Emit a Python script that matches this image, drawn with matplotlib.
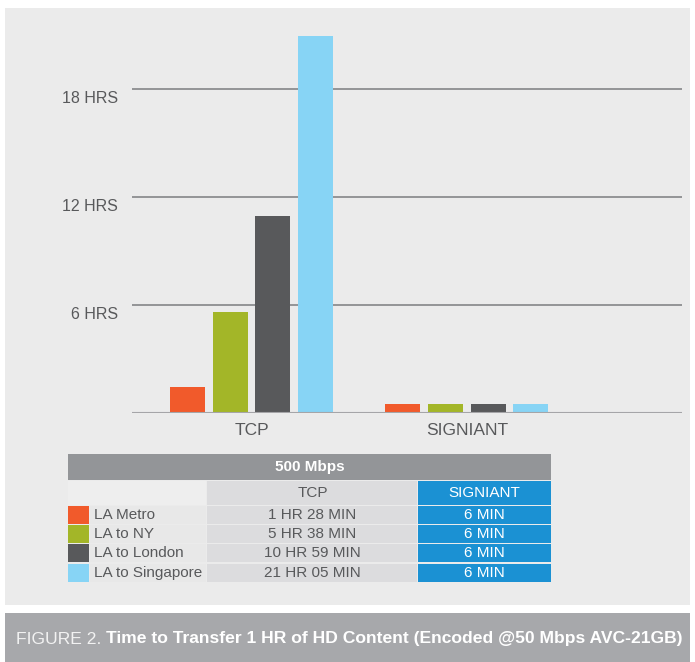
import matplotlib
matplotlib.use("Agg")
import matplotlib.pyplot as plt
from matplotlib.patches import Rectangle
import matplotlib.transforms as mtrans
import numpy as np

# ---- data ----
groups = ["TCP", "SIGNIANT"]
routes = ["LA Metro", "LA to NY", "LA to London", "LA to Singapore"]
tcp_hours = [1.47, 5.6, 10.95, 20.95]
signiant_hours = [0.5, 0.5, 0.5, 0.5]   # as drawn in the chart
tcp_labels = ["1 HR 28 MIN", "5 HR 38 MIN", "10 HR 59 MIN", "21 HR 05 MIN"]
signiant_labels = ["6 MIN", "6 MIN", "6 MIN", "6 MIN"]
yticks = [6, 12, 18]
ytick_labels = ["6 HRS", "12 HRS", "18 HRS"]
colors = ["#f15a2b", "#a3b628", "#58595b", "#87d4f5"]
table_title = "500 Mbps"
caption_light = "FIGURE 2. "
caption_bold = "Time to Transfer 1 HR of HD Content (Encoded @50 Mbps AVC-21GB)"

FAM = ["Liberation Sans", "DejaVu Sans"]
plt.rcParams["font.family"] = FAM

W, H = 695, 662
fig = plt.figure(figsize=(W / 100, H / 100), dpi=100)
fig.patch.set_facecolor("white")

def fx(x):
    return x / W

def fy(y):
    return 1 - y / H

def frect(x0, y0, x1, y1, color, z=0):
    fig.patches.append(Rectangle((fx(x0), fy(y1)), fx(x1) - fx(x0), fy(y0) - fy(y1),
                                 transform=fig.transFigure, facecolor=color,
                                 edgecolor="none", zorder=z))

# background panel and caption bar
frect(5, 8, 690, 605, "#ebebeb", -10)
frect(5, 613, 690, 662, "#a7a8ab", -10)

# ---- axes ----
ax_l, ax_r, ax_b, ax_t = 132, 682, 413, 20
ax = fig.add_axes([fx(ax_l), fy(ax_b), fx(ax_r) - fx(ax_l), fy(ax_t) - fy(ax_b)])
ax.set_zorder(5)
ax.set_facecolor("none")
ax.set_xlim(-0.556, 2.0)
ax.set_ylim(0, (ax_b - ax_t) / 18.0)

width = 0.163
pitch = 0.198
offsets = (np.arange(len(routes)) - 1.5) * pitch
for i, (r, c) in enumerate(zip(routes, colors)):
    ax.bar([0 + offsets[i], 1 + offsets[i]], [tcp_hours[i], signiant_hours[i]],
           width=width, color=c, zorder=3)

for v in yticks:
    ax.axhline(v, color="#8c8d90", lw=1.3, zorder=1)
ax.axhline(0, color="#a5a5a8", lw=1.5, zorder=4)
for s in ax.spines.values():
    s.set_visible(False)
ax.set_yticks([])
ax.set_xticks([0, 1])
ax.set_xticklabels(groups, fontsize=12.5, color="#58595b")
ax.tick_params(axis="x", length=0, pad=7)

trans = mtrans.blended_transform_factory(fig.transFigure, ax.transData)
for v, lab in zip(yticks, ytick_labels):
    ax.text(fx(118), v - 0.12, lab, transform=trans, ha="right", va="top",
            fontsize=11.5, color="#58595b")

# ---- table ----
tl, tr = 68, 551
c1, c2 = 207, 418
frect(tl, 454, tr, 480, "#939598", 1)
fig.text(fx((tl + tr) / 2), fy(467), table_title, ha="center", va="center",
         fontsize=11, color="white", fontweight="bold", zorder=3)
frect(tl, 481, c1 - 1, 505, "#eeeeee", 1)
frect(c1, 481, c2 - 1, 505, "#dcdcde", 1)
frect(c2, 481, tr, 505, "#1b91d3", 1)
fig.text(fx((c1 + c2) / 2), fy(493), groups[0], ha="center", va="center",
         fontsize=11, color="#58595b", zorder=3)
fig.text(fx((c2 + tr) / 2), fy(493), groups[1], ha="center", va="center",
         fontsize=11, color="white", zorder=3)

row_tops = [506, 525, 544, 564]
row_h = 18.2
for i, top in enumerate(row_tops):
    bot = top + row_h
    mid = (top + bot) / 2
    frect(tl, top, 89, bot, colors[i], 1)
    frect(90, top, c1 - 1, bot, "#e8e8e8", 1)
    frect(c1, top, c2 - 1, bot, "#dcdcde", 1)
    frect(c2, top, tr, bot, "#1b91d3", 1)
    fig.text(fx(94), fy(mid), routes[i], ha="left", va="center",
             fontsize=11, color="#58595b", zorder=3)
    fig.text(fx((c1 + c2) / 2), fy(mid), tcp_labels[i], ha="center", va="center",
             fontsize=11, color="#58595b", zorder=3)
    fig.text(fx((c2 + tr) / 2), fy(mid), signiant_labels[i], ha="center", va="center",
             fontsize=11, color="white", zorder=3)

# ---- caption ----
t1 = fig.text(fx(16), fy(639), caption_light, ha="left", va="center",
              fontsize=12.6, color="#f2f2f2", fontweight="light", zorder=3)
fig.canvas.draw()
bb = t1.get_window_extent()
fig.text(bb.x1 / fig.dpi / fig.get_figwidth(), fy(639), caption_bold, ha="left",
         va="center", fontsize=12.6, color="white", fontweight="bold", zorder=3)

fig.savefig("out.png", dpi=100)
